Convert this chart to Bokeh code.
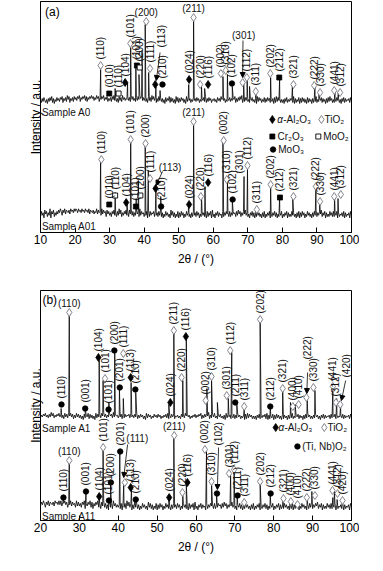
import numpy as np
from bokeh.plotting import figure
from bokeh.layouts import column
from bokeh.models import Range1d, FixedTicker, Arrow, NormalHead
from bokeh.core.properties import value
from bokeh.embed import file_html
from bokeh.resources import INLINE

FONT = "Liberation Sans"

# ======================= DATA =======================
A_TICKS = [10, 20, 30, 40, 50, 60, 70, 80, 90, 100]
B_TICKS = [20, 30, 40, 50, 60, 70, 80, 90, 100]

# ---- panel (a): Sample A0 (upper trace) ----
A0_BG = ("52637425163748261537" "46375826473958264738" "57486937586948375869"
         "68475968375869475836" "47385947362847395746" "58473958463748596847"
         "47362847395847263847" "36251736482736251837" "26374625183746253746"
         "37462536473826374625" "46352746385746253647" "36475826374859263748"
         "35264735261837462537" "26374625361728374625" "25163725364728162537"
         "16273625172635162738" "25364726351627384625" "26374625163726354627" "3")
A0_PK_POS = [27.4, 31.6, 35.2, 36.1, 37.6, 38.5, 39.4, 40.3, 41.3, 43.4, 44.6, 52.9, 54.3,
             56.6, 57.5, 62.8, 64.1, 65.5, 68.8, 69.8, 70.5, 72.3, 76.6, 79.2, 82.9, 89.4,
             90.6, 95.2, 96.2]
A0_PK_H = [35, 16, 22, 57, 40, 30, 54, 80, 32, 18, 14, 20, 84,
           18, 16, 28, 30, 18, 22, 24, 18, 13, 27, 25, 19, 18,
           14, 14, 13]
A0_MK_POS = [27.4, 29.9, 32.6, 34.5, 36.0, 37.9, 38.7, 40.6, 41.7, 43.2, 45.3, 53.0, 54.3, 56.2,
             58.5, 62.2, 63.6, 65.4, 68.5, 69.7, 72.3, 76.5, 79.1, 83.2, 89.2, 90.9, 95.0, 96.7]
A0_MK_LEV = [167, 139, 139, 150, 189, 167, 165, 211, 164, 148, 148, 153, 215, 148,
             148, 159, 162, 149, 150, 155, 141, 159, 155, 148, 147, 140, 142, 140]
A0_MK_KIND = ["d", "s", "S", "D", "d", "s", "S", "d", "d", "D", "c", "D", "d", "d",
              "D", "d", "d", "c", "d", "d", "d", "d", "s", "d", "d", "d", "d", "d"]
A0_MK_HKL = ["(110)", "(010)", "(110)", "(104)", "(101)", "(101)", "(200)", "(200)", "(111)", "",
             "(210)", "(024)", "(211)", "(220)", "(116)", "(002)", "(310)", "(102)", "", "(112)",
             "(311)", "(202)", "(212)", "(321)", "(222)", "(330)", "(441)", "(312)"]
A0_MK_MODE = "vvvvvvvhvvvvhvvvvvvvvvvvvvvv"

# ---- panel (a): Sample A01 (lower trace) ----
A01_BG = ("37462857364927583647" "58697486958768597869" "79869786978697869587"
          "68576958674958673857" "46375846374958364758" "47385947364857394756"
          "36472837465738463748" "36253746352847362537" "26374625374635263746"
          "37462537463527364728" "35264736452736475637" "36475637485736475846"
          "35264736253746352637" "25364725364736253647" "25364726353746352637"
          "26374625374635263748" "36475836472635374637" "36472635463726354627" "4")
A01_PK_POS = [27.4, 31.6, 35.0, 36.1, 37.7, 38.3, 40.3, 41.2, 43.4, 44.8, 52.9, 54.3, 56.6,
              57.6, 62.8, 64.1, 65.5, 68.9, 69.9, 72.4, 76.6, 79.2, 83.0, 89.7, 90.8, 95.1, 96.1]
A01_PK_H = [60, 28, 18, 80, 22, 40, 75, 50, 30, 24, 18, 96, 24,
            34, 80, 40, 20, 44, 52, 10, 35, 24, 22, 34, 18, 24, 22]
A01_MK_POS = [27.6, 29.9, 31.6, 34.8, 36.1, 37.6, 38.9, 40.4, 41.7, 43.3, 44.9, 53.0, 54.3, 56.4,
              58.5, 63.0, 63.9, 65.6, 67.7, 69.9, 72.6, 76.6, 79.3, 83.2, 89.7, 90.9, 95.0, 96.9]
A01_MK_LEV = [73, 28, 37, 30, 93, 26, 37, 89, 54, 44, 26, 28, 111, 36,
              50, 92, 53, 33, 53, 67, 23, 48, 35, 36, 46, 31, 36, 38]
A01_MK_KIND = ["d", "s", "S", "D", "d", "s", "S", "d", "d", "D", "c", "D", "d", "d",
               "D", "d", "d", "c", "n", "d", "d", "d", "s", "d", "d", "d", "d", "d"]
A01_MK_HKL = ["(110)", "(010)", "(110)", "(104)", "(101)", "(101)", "(200)", "(200)", "(111)", "",
              "(210)", "(024)", "(211)", "(220)", "(116)", "(002)", "(310)", "(102)", "(301)", "(112)",
              "(311)", "(202)", "(212)", "(321)", "(222)", "(330)", "(441)", "(312)"]
A01_MK_MODE = "vvvvvvvvvvvvhvvvvvvvvvvvvvvv"

# callouts: text, x, y, orientation, arrow start x, y, arrow end x, y
A_CALLOUTS = [("(113)", 45.0, 185, "v", 44.6, 180, 43.5, 152),
              ("(301)", 68.8, 197, "h", 68.6, 192, 68.5, 155),
              ("(113)", 47.5, 65, "h", 45.3, 61, 43.5, 47)]

# ---- panel (b): Sample A1 (upper trace) ----
A1_BG = ("36475846374958364758" "47362847395847263847" "36251736482736251837"
         "47385947364857394756" "36472837465738463748" "26374625183746253746"
         "37462536473826374625" "46352746385746253647" "36475826374859263748"
         "35264735261837462537" "26374625361728374625" "25163725364728162537"
         "16273625172635162738" "25364726351627384625" "26374625163726354627"
         "36472635463726354627" "3")
A1_PK_POS = [25.3, 27.4, 31.5, 35.1, 36.1, 37.6, 39.1, 40.3, 41.3, 43.3, 44.5, 53.0, 54.3,
             56.6, 57.5, 62.8, 64.0, 65.5, 68.3, 69.2, 70.5, 72.4, 76.5, 79.1, 82.3, 84.3,
             85.5, 88.6, 90.6, 95.2, 96.2, 97.2]
A1_PK_H = [12, 106, 12, 60, 40, 18, 68, 32, 22, 38, 28, 16, 88,
           40, 82, 32, 40, 18, 22, 68, 16, 12, 98, 14, 30, 18,
           16, 20, 30, 30, 22, 15]
A1_MK_POS = [25.4, 27.4, 31.5, 34.9, 36.6, 37.5, 39.0, 40.4, 41.3, 43.2, 44.4, 53.4, 54.3, 56.3,
             57.4, 62.5, 64.0, 67.9, 68.8, 70.1, 72.4, 76.5, 79.1, 82.3, 84.9, 86.4, 88.4, 90.2,
             95.2, 96.0, 97.1]
A1_MK_LEV = [116, 208, 112, 163, 142, 111, 170, 133, 167, 143, 131, 118, 190, 143,
             184, 120, 144, 125, 170, 118, 114, 201, 114, 132, 114, 116, 123, 133,
             134, 118, 116]
A1_MK_KIND = ["c", "d", "c", "D", "d", "c", "c", "c", "d", "D", "c", "D", "d", "d",
              "D", "d", "d", "d", "d", "c", "d", "d", "c", "d", "d", "d", "d", "d",
              "d", "d", "d"]
A1_MK_HKL = ["(110)", "(110)", "(001)", "(104)", "(101)", "(101)", "(200)", "(201)", "(111)", "(113)",
             "(210)", "(024)", "(211)", "(220)", "(116)", "(002)", "(310)", "(301)", "(112)", "(211)",
             "(311)", "(202)", "(212)", "(321)", "(400)", "(410)", "", "(330)", "(441)", "(312)", ""]
A1_MK_MODE = "vhvvvvvvvvvvvvvvvvvvvvvvvvvvvvv"

# ---- panel (b): Sample A11 (lower trace) ----
A11_BG = ("58697486958768597869" "69587968476958674958" "57486937586948375869"
          "47385947362847395746" "46372847395847263847" "36253746352847362537"
          "26374625374635263746" "37462537463527364728" "35264736452736475637"
          "36475637485736475846" "35264736253746352637" "25364725364736253647"
          "25364726353746352637" "26374625374635263748" "36475836472635374637"
          "36472635463726354627" "4")
A11_PK_POS = [25.8, 27.4, 31.7, 35.1, 36.1, 37.5, 38.0, 40.4, 41.4, 43.4, 44.6, 53.0, 54.3,
              56.6, 57.5, 62.7, 64.0, 65.3, 68.9, 69.8, 70.6, 72.4, 76.5, 79.1, 82.4, 84.2,
              86.0, 88.6, 89.8, 95.2, 95.6, 96.3, 97.6]
A11_PK_H = [15, 49, 21, 15, 63, 13, 29, 59, 27, 24, 15, 15, 75,
            17, 29, 61, 29, 19, 37, 41, 15, 9, 29, 17, 13, 11,
            9, 13, 21, 15, 21, 13, 11]
A11_MK_POS = [25.9, 27.4, 31.7, 35.1, 36.1, 37.6, 38.1, 40.5, 41.7, 43.2, 44.5, 53.1, 54.4, 56.5,
              57.8, 62.3, 64.0, 65.4, 68.5, 69.8, 70.7, 72.4, 76.5, 79.2, 82.5, 84.4, 86.1, 88.5,
              90.6, 95.1, 96.4, 97.7]
A11_MK_LEV = [23, 60, 29, 24, 73, 20, 38, 69, 38, 33, 21, 23, 85, 28,
              38, 71, 39, 27, 47, 51, 25, 18, 39, 27, 22, 19, 16, 23,
              25, 30, 27, 20]
A11_MK_KIND = ["c", "d", "c", "D", "d", "c", "c", "c", "d", "D", "c", "D", "d", "d",
               "D", "d", "d", "c", "d", "d", "c", "d", "d", "c", "d", "d", "d", "d",
               "d", "d", "d", "d"]
A11_MK_HKL = ["(110)", "(110)", "(001)", "(104)", "(101)", "(101)", "(200)", "(201)", "", "(113)",
              "(210)", "(024)", "(211)", "(220)", "(116)", "(002)", "(310)", "", "(301)", "(112)",
              "(211)", "(311)", "(202)", "(212)", "(321)", "(400)", "(410)", "(222)", "(330)", "(441)",
              "(312)", "(420)"]
A11_MK_MODE = "vhvvvvvvvvvvhvvvvvvvvvvvvvvvvvvv"

B_CALLOUTS = [("(222)", 88.7, 161, "v", 88.7, 148, 88.5, 127),
              ("(420)", 98.7, 143, "v", 98.5, 140, 97.4, 120),
              ("(111)", 44.9, 82, "h", 42.4, 76, 41.4, 43),
              ("(102)", 65.8, 75, "v", 65.8, 73, 65.5, 31)]

# ======================= DRAWING =======================
STYLE = {
    "d": dict(marker="diamond", size=8, fill_color="white", line_color="#75757f", line_width=0.9),
    "D": dict(marker="diamond", size=8, fill_color="black", line_color="black", line_width=0.8),
    "s": dict(marker="square", size=5, fill_color="black", line_color="black", line_width=0.8),
    "S": dict(marker="square", size=5, fill_color="white", line_color="black", line_width=0.9),
    "c": dict(marker="circle", size=5.5, fill_color="black", line_color="black", line_width=0.8),
}
TXT = dict(text_font=value(FONT), text_font_size="10px", text_color="#111111")


def make_fig(xr, yr, ticks, top, bottom, frame_h):
    p = figure(frame_width=311, frame_height=frame_h, x_range=Range1d(*xr), y_range=Range1d(*yr),
               output_backend="svg", toolbar_location=None,
               min_border_left=40, min_border_right=8, min_border_top=top, min_border_bottom=bottom)
    p.xgrid.visible = False
    p.ygrid.visible = False
    p.outline_line_color = "black"
    p.outline_line_alpha = 1.0
    p.background_fill_color = "white"
    p.border_fill_color = "white"
    xa = p.xaxis[0]
    xa.ticker = FixedTicker(ticks=ticks, minor_ticks=[])
    xa.major_tick_in = 5
    xa.major_tick_out = 0
    xa.minor_tick_in = 0
    xa.minor_tick_out = 0
    xa.major_label_standoff = 2
    xa.major_label_text_font = FONT
    xa.major_label_text_font_size = "12px"
    xa.major_label_text_color = "black"
    xa.axis_label = "2θ / (°)"
    xa.axis_label_text_font = FONT
    xa.axis_label_text_font_size = "12px"
    xa.axis_label_text_font_style = "normal"
    xa.axis_label_text_color = "black"
    xa.axis_label_standoff = 5
    xa.axis_line_color = "black"
    ya = p.yaxis[0]
    ya.ticker = FixedTicker(ticks=[])
    ya.major_tick_in = 0
    ya.major_tick_out = 0
    ya.minor_tick_in = 0
    ya.minor_tick_out = 0
    ya.major_label_standoff = 0
    ya.axis_label = "Intensity / a.u."
    ya.axis_label_text_font = FONT
    ya.axis_label_text_font_size = "12px"
    ya.axis_label_text_font_style = "normal"
    ya.axis_label_text_color = "black"
    ya.axis_label_standoff = -2
    ya.axis_line_color = "black"
    return p


def draw_trace(p, start, base, scale, bg, pk_pos, pk_h):
    n = len(bg)
    xs = np.linspace(start, 100, n)
    ys = base + scale * np.array([int(c) for c in bg], dtype=float)
    px = np.concatenate([xs, np.array(pk_pos, dtype=float)])
    py = np.concatenate([ys, base + np.array(pk_h, dtype=float)])
    o = np.argsort(px, kind="stable")
    p.line(px[o], py[o], line_color="black", line_width=0.8)


def draw_marks(p, pos, lev, kinds, hkl, modes):
    for k, st in STYLE.items():
        idx = [i for i, kk in enumerate(kinds) if kk == k]
        if idx:
            p.scatter([pos[i] for i in idx], [lev[i] for i in idx], **st)
    v = [i for i in range(len(pos)) if hkl[i] and modes[i] == "v"]
    h = [i for i in range(len(pos)) if hkl[i] and modes[i] == "h"]
    p.text(x=[pos[i] for i in v], y=[lev[i] for i in v], text=[hkl[i] for i in v],
           angle=np.pi / 2, text_align="left", text_baseline="middle", y_offset=-6, **TXT)
    p.text(x=[pos[i] for i in h], y=[lev[i] for i in h], text=[hkl[i] for i in h],
           text_align="center", text_baseline="bottom", y_offset=-4, **TXT)


def draw_callouts(p, calls):
    for txt, x, y, mode, x0, y0, x1, y1 in calls:
        if mode == "v":
            p.text(x=[x], y=[y], text=[txt], angle=np.pi / 2, text_align="left",
                   text_baseline="middle", **TXT)
        else:
            p.text(x=[x], y=[y], text=[txt], text_align="center", text_baseline="middle", **TXT)
        p.add_layout(Arrow(end=NormalHead(size=5, fill_color="black", line_color="black", line_width=1),
                           x_start=x0, y_start=y0, x_end=x1, y_end=y1,
                           line_width=0.8, line_color="black"))


def legend_item(p, x, y, kind, tx, label, alpha_prefix=False):
    p.scatter([x], [y], **STYLE[kind])
    if alpha_prefix:
        p.text(x=[tx], y=[y], text=["α"], text_align="left", text_baseline="middle",
               text_font_style="italic", text_font=value(FONT), text_font_size="10px",
               text_color="#111111")
        p.text(x=[tx], y=[y], text=[label], text_align="left", text_baseline="middle",
               x_offset=6, **TXT)
    else:
        p.text(x=[tx], y=[y], text=[label], text_align="left", text_baseline="middle", **TXT)


# ---- panel (a) ----
pa = make_fig((10, 100), (0, 231), A_TICKS, 1, 48, 231)
draw_trace(pa, 10, 128, 1.0, A0_BG, A0_PK_POS, A0_PK_H)
draw_trace(pa, 10, 12, 1.3, A01_BG, A01_PK_POS, A01_PK_H)
draw_marks(pa, A0_MK_POS, A0_MK_LEV, A0_MK_KIND, A0_MK_HKL, A0_MK_MODE)
draw_marks(pa, A01_MK_POS, A01_MK_LEV, A01_MK_KIND, A01_MK_HKL, A01_MK_MODE)
draw_callouts(pa, A_CALLOUTS)
pa.text(x=[11.3], y=[221], text=["(a)"], text_align="left", text_baseline="middle",
        text_font=value(FONT), text_font_size="12px", text_color="black")
pa.text(x=[10.4, 10.4], y=[120, 6], text=["Sample A0", "Sample A01"], text_align="left",
        text_baseline="middle", **TXT)
legend_item(pa, 77.1, 113, "D", 78.5, "-Al₂O₃", alpha_prefix=True)
legend_item(pa, 91.3, 113, "d", 92.2, "TiO₂")
legend_item(pa, 77.1, 96, "s", 78.6, "Cr₂O₃")
legend_item(pa, 90.4, 96, "S", 91.8, "MoO₂")
legend_item(pa, 77.3, 83, "c", 78.8, "MoO₃")

# ---- panel (b) ----
pb = make_fig((20, 100), (0, 230), B_TICKS, 10, 35, 230)
draw_trace(pb, 20, 100, 0.9, A1_BG, A1_PK_POS, A1_PK_H)
draw_trace(pb, 20, 8, 1.3, A11_BG, A11_PK_POS, A11_PK_H)
draw_marks(pb, A1_MK_POS, A1_MK_LEV, A1_MK_KIND, A1_MK_HKL, A1_MK_MODE)
draw_marks(pb, A11_MK_POS, A11_MK_LEV, A11_MK_KIND, A11_MK_HKL, A11_MK_MODE)
draw_callouts(pb, B_CALLOUTS)
pb.text(x=[20.5], y=[221], text=["(b)"], text_align="left", text_baseline="middle",
        text_font=value(FONT), text_font_size="12px", text_color="black")
pb.text(x=[20.4, 20.4], y=[92, 4], text=["Sample A1", "Sample A11"], text_align="left",
        text_baseline="middle", **TXT)
legend_item(pb, 80.5, 93, "D", 81.2, "-Al₂O₃", alpha_prefix=True)
legend_item(pb, 93.0, 93, "d", 93.8, "TiO₂")
legend_item(pb, 86.1, 74, "c", 87.3, "(Ti, Nb)O₂")

layout = column(pa, pb, spacing=0)
with open("out.html", "w") as f:
    f.write(file_html(layout, INLINE))
